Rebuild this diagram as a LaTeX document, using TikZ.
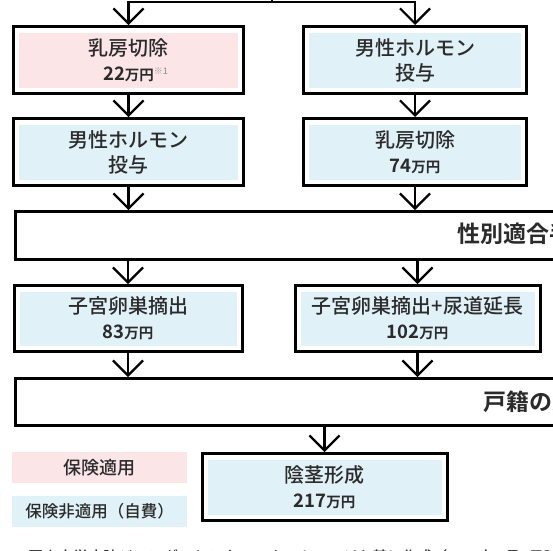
\documentclass[tikz,border=0pt]{standalone}
\usepackage{fontspec}
\setmainfont{Noto Sans CJK JP}[UprightFont={* Medium}, BoldFont={* Bold}]
\usetikzlibrary{arrows.meta}
\definecolor{pinkf}{HTML}{FBE5E7}
\definecolor{bluef}{HTML}{E1F1F8}
\definecolor{txt}{HTML}{2B2B2B}
\definecolor{notec}{HTML}{9A9A9A}
\newcommand\mancost[1]{{\bfseries\fontsize{18.5}{25}\selectfont #1\fontsize{14.5}{25}\selectfont 万円}}
\tikzset{
  box/.style 2 args={draw=black, line width=3pt, fill=white, minimum width=#1,
    minimum height=67pt, inner sep=0pt, text=txt, align=center,
    font=\fontsize{20}{25}\selectfont,
    path picture={\fill[#2] ([shift={(5.5pt,-6pt)}]path picture bounding box.north west)
      rectangle ([shift={(-5.5pt,6pt)}]path picture bounding box.south east);}},
  widebox/.style={draw=black, line width=3pt, fill=white, minimum width=#1,
    minimum height=48pt, inner sep=0pt, anchor=west},
  widelabel/.style={anchor=west, inner sep=0pt, text=txt,
    font=\fontsize{23}{23}\selectfont\bfseries},
  legend/.style={fill=#1, minimum width=175pt, minimum height=31pt, inner sep=0pt, text=txt},
  arr/.style={line width=2.2pt, -{Straight Barb[length=15pt,width=30pt,line width=2.2pt]}},
}
\begin{document}
\begin{tikzpicture}[x=1pt,y=-1pt]
\useasboundingbox (0,0) rectangle (553,550);
\clip (0,0) rectangle (553,550);
\fill[white] (0,0) rectangle (553,550);

\coordinate (top) at (272,2);
\coordinate (stub) at (272,-4);

\node[box={230pt}{pinkf}] (A1) at (128.5,60)
  {乳房切除\\\mancost{22}\rlap{\raisebox{6pt}{\color{notec}\fontsize{9}{9}\selectfont ※1}}};
\node[box={223pt}{bluef}] (A2) at (415,60) {男性ホルモン\\投与};
\node[box={230pt}{bluef}] (B1) at (128.5,152) {男性ホルモン\\投与};
\node[box={223pt}{bluef}] (B2) at (415,152) {乳房切除\\\mancost{74}};

\node[widebox=1022pt] (W1) at (13.5,235.5) {};
\node[widelabel] (T1) at (457,234) {性別適合手術};

\node[box={228pt}{bluef}, minimum height=66pt] (C1) at (128,318.5) {子宮卵巣摘出\\\mancost{83}};
\node[box={245pt}{bluef}, minimum height=66pt] (C2) at (417.5,318.5) {子宮卵巣摘出+尿道延長\\\mancost{102}};

\node[widebox=1054pt, minimum height=47pt] (W2) at (13.5,402) {};
\node[widelabel] (T2) at (483,402) {戸籍の変更};

\node[box={245pt}{bluef}] (D) at (324.5,487) {陰茎形成\\\mancost{217}};

\node[legend=pinkf, font=\fontsize{18}{18}\selectfont] (L1) at (99.5,467.5) {保険適用};
\node[legend=bluef, font=\fontsize{16.5}{16.5}\selectfont] (L2) at (99.5,511.5) {保険非適用（自費）};

\node[anchor=base west, inner sep=0pt, text=txt, font=\fontsize{15}{15}\selectfont] (F) at (13,562)
  {※岡山大学病院ジェンダーセンターのホームページを基に作成（2022年2月1日時点）};

% connectors
\draw[line width=2.2pt] (stub) -- (top);
\draw[arr] (top) -| (A1.north);
\draw[arr] (top) -| (A2.north);
\draw[arr] (A1.south) -- (B1.north);
\draw[arr] (A2.south) -- (B2.north);
\draw[arr] (B1.south) -- (B1.south |- W1.north);
\draw[arr] (B2.south) -- (B2.south |- W1.north);
\draw[arr] (C1.north |- W1.south) -- (C1.north);
\draw[arr] (C2.north |- W1.south) -- (C2.north);
\draw[arr] (C1.south) -- (C1.south |- W2.north);
\draw[arr] (C2.south) -- (C2.south |- W2.north);
\draw[arr] (D.north |- W2.south) -- (D.north);
\end{tikzpicture}
\end{document}
